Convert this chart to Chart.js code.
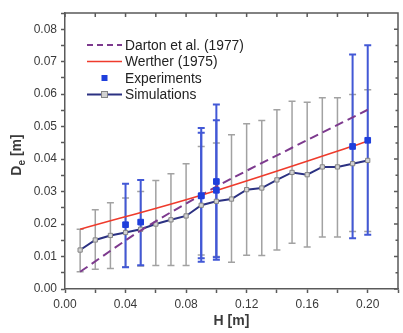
<!DOCTYPE html>
<html>
<head>
<meta charset="utf-8">
<script src="https://cdn.jsdelivr.net/npm/chart.js@4.4.0/dist/chart.umd.min.js"></script>
<style>
  html, body { margin: 0; padding: 0; background: #fff; }
  #wrap { width: 403px; height: 333px; }
</style>
</head>
<body>
<div id="wrap"><canvas id="chart" width="403" height="333"></canvas></div>
<script>
// Darton et al. (1977) correlation
const dartonH = [0.01, 0.05, 0.10, 0.15, 0.20];
const dartonD = [0.0053, 0.0180, 0.0315, 0.0435, 0.0552];

// Werther (1975) correlation
const wertherH = [0.01, 0.09, 0.20];
const wertherD = [0.0184, 0.0289, 0.0455];

// Experiments with error bars
const expH = [0.04, 0.05, 0.09, 0.09, 0.10, 0.10, 0.19, 0.20];
const expD = [0.0198, 0.0206, 0.0287, 0.0287, 0.0331, 0.0304, 0.0439, 0.0458];
const expHigh = [0.0324, 0.0336, 0.0496, 0.0481, 0.0568, 0.0520, 0.0722, 0.0751];
const expLow = [0.0067, 0.0073, 0.0084, 0.0095, 0.0090, 0.0098, 0.0156, 0.0167];

// Simulations with error bars
const simH = [0.01, 0.02, 0.03, 0.04, 0.05, 0.06, 0.07, 0.08, 0.09, 0.10,
              0.11, 0.12, 0.13, 0.14, 0.15, 0.16, 0.17, 0.18, 0.19, 0.20];
const simD = [0.0120, 0.0151, 0.0165, 0.0174, 0.0184, 0.0200, 0.0213, 0.0225, 0.0258, 0.0270,
              0.0277, 0.0306, 0.0311, 0.0336, 0.0359, 0.0352, 0.0376, 0.0376, 0.0386, 0.0396];
const simHigh = [0.0184, 0.0244, 0.0266, 0.0280, 0.0300, 0.0334, 0.0355, 0.0386, 0.0439, 0.0450,
                 0.0475, 0.0509, 0.0519, 0.0552, 0.0578, 0.0575, 0.0589, 0.0589, 0.0599, 0.0614];
const simLow = [0.0053, 0.0061, 0.0063, 0.0068, 0.0071, 0.0072, 0.0072, 0.0072, 0.0105, 0.0100,
                0.0082, 0.0104, 0.0103, 0.0120, 0.0141, 0.0129, 0.0160, 0.0160, 0.0177, 0.0177];

// Axis ranges and ticks
const xMin = 0, xMax = 0.22, xStep = 0.02;
const yMin = 0, yMax = 0.085, yStep = 0.005;

const colors = {
    darton: '#7d3a8e',
    werther: '#ef3b2c',
    exp: '#1f3fdc',
    expBar: '#4258d6',
    sim: '#2b3182',
    simBar: '#a2a2a2',
    simPoint: '#d2d2d2',
    simPointBorder: '#858585',
    axis: '#5a5a5a',
    text: '#3a3a3a'
};
const fontFamily = '"Liberation Sans", Arial, sans-serif';

function toXY(xs, ys) {
    return xs.map((x, i) => ({ x: x, y: ys[i] }));
}

// error bars drawn through the chart scales
const errorBars = {
    id: 'errorBars',
    beforeDatasetsDraw(chart) {
        const { ctx, scales: { x, y } } = chart;
        const drawBars = (xs, lows, highs, color, width) => {
            ctx.save();
            ctx.strokeStyle = color;
            ctx.lineWidth = width;
            xs.forEach((h, i) => {
                const px = x.getPixelForValue(h);
                const top = y.getPixelForValue(highs[i]);
                const bot = y.getPixelForValue(lows[i]);
                ctx.beginPath();
                ctx.moveTo(px, top);
                ctx.lineTo(px, bot);
                ctx.moveTo(px - 3.5, top);
                ctx.lineTo(px + 3.5, top);
                ctx.moveTo(px - 3.5, bot);
                ctx.lineTo(px + 3.5, bot);
                ctx.stroke();
            });
            ctx.restore();
        };
        drawBars(simH, simLow, simHigh, colors.simBar, 1.5);
        drawBars(expH, expLow, expHigh, colors.expBar, 2);
    }
};

// top / right frame with inward ticks, y title with subscript, legend
const frameAndLegend = {
    id: 'frameAndLegend',
    afterDraw(chart) {
        const { ctx, chartArea: a, scales: { x, y } } = chart;
        ctx.save();
        ctx.strokeStyle = colors.axis;
        ctx.lineWidth = 1.5;
        ctx.beginPath();
        ctx.moveTo(a.left, a.top);
        ctx.lineTo(a.right, a.top);
        ctx.lineTo(a.right, a.bottom);
        x.ticks.forEach(t => {
            const px = x.getPixelForValue(t.value);
            ctx.moveTo(px, a.top);
            ctx.lineTo(px, a.top + 4);
        });
        y.ticks.forEach(t => {
            const py = y.getPixelForValue(t.value);
            const major = Math.round(t.value * 1000) % 10 === 0;
            ctx.moveTo(a.right, py);
            ctx.lineTo(a.right - (major ? 4 : 2.5), py);
        });
        ctx.stroke();

        // y axis title D_e [m]
        ctx.fillStyle = colors.text;
        ctx.translate(21, (a.top + a.bottom) / 2 + 4);
        ctx.rotate(-Math.PI / 2);
        ctx.textBaseline = 'alphabetic';
        const big = 'bold 14px ' + fontFamily;
        const small = 'bold 10px ' + fontFamily;
        ctx.font = big;
        const wD = ctx.measureText('D').width;
        const wM = ctx.measureText(' [m]').width;
        ctx.font = small;
        const wE = ctx.measureText('e').width;
        let start = -(wD + wE + wM) / 2;
        ctx.font = big;
        ctx.fillText('D', start, 0);
        ctx.font = small;
        ctx.fillText('e', start + wD, 4);
        ctx.font = big;
        ctx.fillText(' [m]', start + wD + wE, 0);
        ctx.restore();

        // legend
        ctx.save();
        const lx0 = 87, lx1 = 122, tx = 125;
        const rows = [45, 61.5, 78, 94.5];
        ctx.font = '13.8px ' + fontFamily;
        ctx.fillStyle = '#222';
        ctx.textBaseline = 'middle';
        const labels = ['Darton et al. (1977)', 'Werther (1975)', 'Experiments', 'Simulations'];
        labels.forEach((s, i) => ctx.fillText(s, tx, rows[i] + 1));

        ctx.lineWidth = 2;
        ctx.strokeStyle = colors.darton;
        ctx.setLineDash([6, 4]);
        ctx.beginPath();
        ctx.moveTo(lx0, rows[0]);
        ctx.lineTo(lx1, rows[0]);
        ctx.stroke();
        ctx.setLineDash([]);

        ctx.lineWidth = 1.6;
        ctx.strokeStyle = colors.werther;
        ctx.beginPath();
        ctx.moveTo(lx0, rows[1]);
        ctx.lineTo(lx1, rows[1]);
        ctx.stroke();

        const mid = (lx0 + lx1) / 2;
        ctx.fillStyle = colors.exp;
        ctx.fillRect(mid - 3, rows[2] - 3, 6, 6);

        ctx.lineWidth = 2;
        ctx.strokeStyle = colors.sim;
        ctx.beginPath();
        ctx.moveTo(lx0, rows[3]);
        ctx.lineTo(lx1, rows[3]);
        ctx.stroke();
        ctx.fillStyle = colors.simPoint;
        ctx.strokeStyle = colors.simPointBorder;
        ctx.lineWidth = 1;
        ctx.fillRect(mid - 3, rows[3] - 3, 6, 6);
        ctx.strokeRect(mid - 3, rows[3] - 3, 6, 6);
        ctx.restore();
    }
};

document.addEventListener('DOMContentLoaded', function() {
    const ctx = document.getElementById('chart').getContext('2d');
    new Chart(ctx, {
        type: 'line',
        data: {
            datasets: [
                {
                    label: 'Experiments',
                    data: toXY(expH, expD),
                    showLine: false,
                    pointStyle: 'rect',
                    pointRadius: 4,
                    pointBackgroundColor: colors.exp,
                    pointBorderColor: colors.exp,
                    pointBorderWidth: 1
                },
                {
                    label: 'Werther (1975)',
                    data: toXY(wertherH, wertherD),
                    borderColor: colors.werther,
                    borderWidth: 1.6,
                    pointRadius: 0,
                    cubicInterpolationMode: 'monotone'
                },
                {
                    label: 'Darton et al. (1977)',
                    data: toXY(dartonH, dartonD),
                    borderColor: colors.darton,
                    borderWidth: 2,
                    borderDash: [9, 5],
                    pointRadius: 0,
                    cubicInterpolationMode: 'monotone'
                },
                {
                    label: 'Simulations',
                    data: toXY(simH, simD),
                    borderColor: colors.sim,
                    borderWidth: 2,
                    pointStyle: 'rect',
                    pointRadius: 3,
                    pointBackgroundColor: colors.simPoint,
                    pointBorderColor: colors.simPointBorder,
                    pointBorderWidth: 1,
                    tension: 0
                }
            ]
        },
        options: {
            responsive: false,
            animation: false,
            layout: { padding: { top: 13, right: 3, left: 0, bottom: 0 } },
            plugins: {
                legend: { display: false },
                tooltip: { enabled: false }
            },
            scales: {
                x: {
                    type: 'linear',
                    min: xMin,
                    max: xMax,
                    afterFit: function(scale) { scale.height = 44; },
                    border: { display: true, color: colors.axis, width: 1.5 },
                    grid: {
                        drawOnChartArea: false,
                        drawTicks: true,
                        tickLength: 4,
                        tickColor: colors.axis,
                        tickWidth: 1.5
                    },
                    ticks: {
                        stepSize: xStep,
                        autoSkip: false,
                        maxRotation: 0,
                        padding: 4,
                        color: colors.text,
                        font: { family: fontFamily, size: 12 },
                        callback: function(value) {
                            return Math.round(value * 100) % 4 === 0 ? value.toFixed(2) : '';
                        }
                    },
                    title: {
                        display: true,
                        text: 'H [m]',
                        color: colors.text,
                        font: { family: fontFamily, size: 14, weight: 'bold' },
                        padding: { top: 0, bottom: 3 }
                    }
                },
                y: {
                    type: 'linear',
                    min: yMin,
                    max: yMax,
                    afterFit: function(scale) { scale.width = 65; },
                    border: { display: true, color: colors.axis, width: 1.5 },
                    grid: {
                        drawOnChartArea: false,
                        drawTicks: true,
                        tickLength: 4,
                        tickColor: colors.axis,
                        tickWidth: 1.5
                    },
                    ticks: {
                        stepSize: yStep,
                        autoSkip: false,
                        padding: 4,
                        color: colors.text,
                        font: { family: fontFamily, size: 12 },
                        callback: function(value) {
                            return Math.round(value * 1000) % 10 === 0 ? value.toFixed(2) : '';
                        }
                    }
                }
            }
        },
        plugins: [errorBars, frameAndLegend]
    });
});
</script>
</body>
</html>
